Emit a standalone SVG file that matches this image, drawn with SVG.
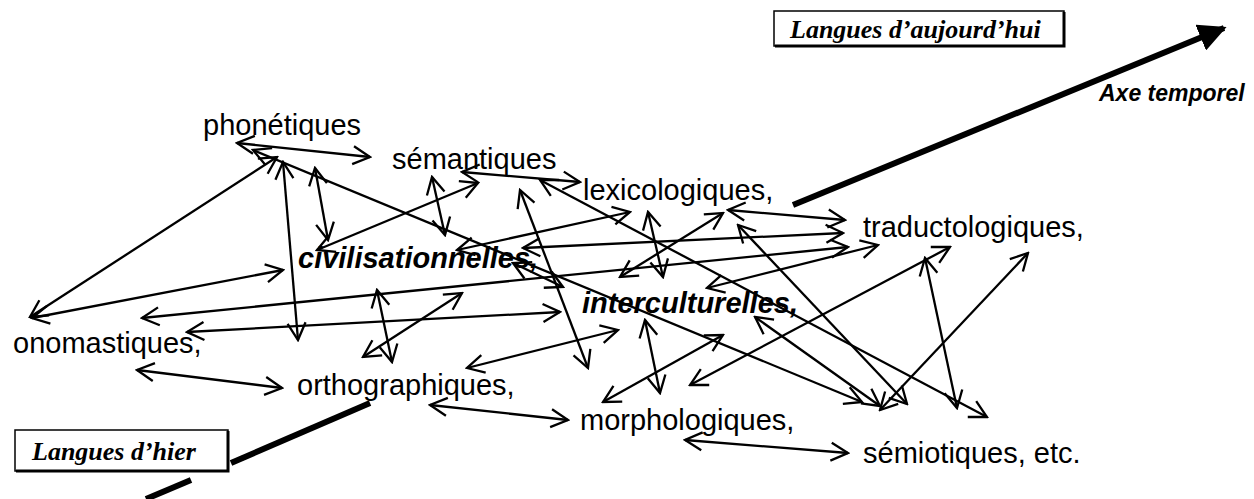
<svg xmlns="http://www.w3.org/2000/svg" width="1254" height="499" viewBox="0 0 1254 499">
<defs>
<marker id="ah" viewBox="-19 -11 21 22" refX="0" refY="0" markerWidth="21" markerHeight="22" markerUnits="userSpaceOnUse" orient="auto-start-reverse">
<path d="M-17,-9 L0,0 L-17,9" fill="none" stroke="#000" stroke-width="2.3"/>
</marker>
<marker id="big" viewBox="0 0 10 10" refX="9" refY="5" markerWidth="28" markerHeight="28" markerUnits="userSpaceOnUse" orient="auto">
<path d="M0,0 L10,5 L0,10 z" fill="#000"/>
</marker>
<style>
.t{font-family:"Liberation Sans",Arial,sans-serif;font-size:29px;fill:#000}
.bi{font-weight:bold;font-style:italic}
.c line{stroke:#000;stroke-width:2.3;fill:none;marker-start:url(#ah);marker-end:url(#ah)}
.axis{stroke:#000;stroke-width:6;fill:none}
.lg{font-family:"Liberation Serif","Times New Roman",serif;font-size:26px;font-weight:bold;font-style:italic}
</style>
</defs>
<rect width="1254" height="499" fill="#fff"/>
<g id="axis">
<line class="axis" x1="793" y1="205" x2="1224" y2="28" marker-end="url(#big)"/>
<line class="axis" x1="370" y1="403" x2="231" y2="463"/>
<line class="axis" x1="191" y1="480" x2="146" y2="499"/>
<text x="1099" y="101" font-family="Liberation Sans,Arial,sans-serif" font-size="23" font-weight="bold" font-style="italic">Axe temporel</text>
</g>
<g id="connectors" class="c">
<line x1="237" y1="143" x2="370" y2="157"/>
<line x1="30" y1="317" x2="277" y2="157"/>
<line x1="32" y1="318" x2="283" y2="270"/>
<line x1="283" y1="162" x2="298" y2="340"/>
<line x1="315" y1="168" x2="328" y2="240"/>
<line x1="253" y1="150" x2="862" y2="402"/>
<line x1="317" y1="250" x2="478" y2="183"/>
<line x1="432" y1="177" x2="445" y2="235"/>
<line x1="457" y1="250" x2="630" y2="212"/>
<line x1="462" y1="172" x2="580" y2="182"/>
<line x1="520" y1="190" x2="588" y2="368"/>
<line x1="513" y1="263" x2="563" y2="287"/>
<line x1="540" y1="180" x2="987" y2="417"/>
<line x1="723" y1="213" x2="620" y2="277"/>
<line x1="648" y1="212" x2="663" y2="277"/>
<line x1="728" y1="210" x2="845" y2="220"/>
<line x1="523" y1="248" x2="843" y2="233"/>
<line x1="142" y1="318" x2="848" y2="247"/>
<line x1="707" y1="288" x2="878" y2="245"/>
<line x1="187" y1="332" x2="560" y2="312"/>
<line x1="137" y1="370" x2="282" y2="388"/>
<line x1="430" y1="405" x2="568" y2="420"/>
<line x1="467" y1="368" x2="618" y2="330"/>
<line x1="377" y1="290" x2="392" y2="362"/>
<line x1="363" y1="357" x2="462" y2="293"/>
<line x1="645" y1="320" x2="660" y2="393"/>
<line x1="603" y1="402" x2="723" y2="335"/>
<line x1="685" y1="440" x2="848" y2="453"/>
<line x1="690" y1="385" x2="950" y2="247"/>
<line x1="925" y1="258" x2="957" y2="408"/>
<line x1="1028" y1="253" x2="880" y2="410"/>
<line x1="738" y1="225" x2="907" y2="404"/>
<line x1="755" y1="317" x2="880" y2="406"/>
</g>
<g id="n-phonetiques"><text class="t" x="203" y="135">phonétiques</text></g>
<g id="n-semantiques"><text class="t" x="392" y="169">sémantiques</text></g>
<g id="n-lexicologiques"><text class="t" x="583" y="200">lexicologiques,</text></g>
<g id="n-traductologiques"><text class="t" x="863" y="237">traductologiques,</text></g>
<g id="n-civilisationnelles"><text class="t bi" x="298" y="268">civilisationnelles,</text></g>
<g id="n-interculturelles"><text class="t bi" x="582" y="313">interculturelles,</text></g>
<g id="n-onomastiques"><text class="t" x="13" y="353">onomastiques,</text></g>
<g id="n-orthographiques"><text class="t" x="297" y="395">orthographiques,</text></g>
<g id="n-morphologiques"><text class="t" x="580" y="430">morphologiques,</text></g>
<g id="n-semiotiques"><text class="t" x="863" y="463">sémiotiques, etc.</text></g>
<g id="box-aujourdhui">
<rect x="774" y="11" width="290" height="35" fill="#fff" stroke="#000" stroke-width="1.5"/>
<polyline points="1064,12 1064,46 775,46" fill="none" stroke="#000" stroke-width="3"/>
<text class="lg" x="790" y="38">Langues d’aujourd’hui</text>
</g>
<g id="box-hier">
<rect x="15" y="430" width="213" height="41" fill="#fff" stroke="#000" stroke-width="1.5"/>
<polyline points="228,431 228,471 16,471" fill="none" stroke="#000" stroke-width="3"/>
<text class="lg" x="32" y="460">Langues d’hier</text>
</g>
</svg>
